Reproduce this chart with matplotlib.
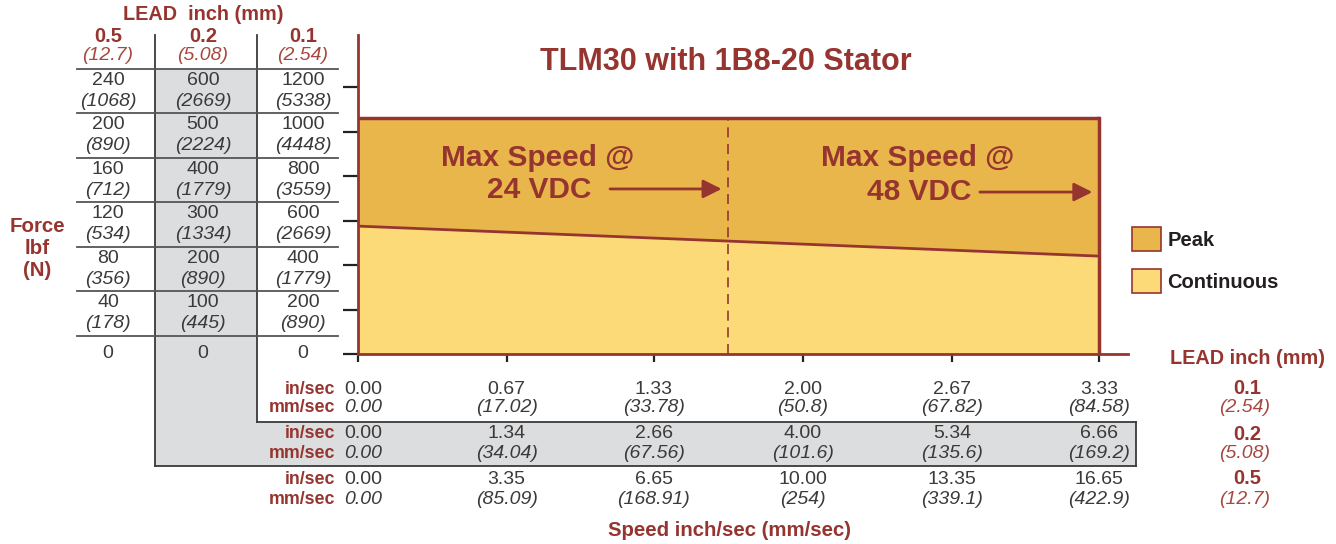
import matplotlib.pyplot as plt
import matplotlib.transforms as mtransforms
from matplotlib.patches import Rectangle, Patch

plt.rcParams['font.family'] = ['Liberation Sans', 'DejaVu Sans']

# ---- data (force in lbf and speed in in/sec for the 0.1 in lead) ----
speed_in = [0.0, 3.33]
peak_force = [1060, 1060]
cont_force = [575, 440]
vmax_24 = 1.665
vmax_48 = 3.33

force_ticks = [1200, 1000, 800, 600, 400, 200]
lead_cols = ['0.5', '0.2', '0.1']
lead_mm = ['(12.7)', '(5.08)', '(2.54)']
lbf_05 = ['240', '200', '160', '120', '80', '40']
n_05 = ['(1068)', '(890)', '(712)', '(534)', '(356)', '(178)']
lbf_02 = ['600', '500', '400', '300', '200', '100']
n_02 = ['(2669)', '(2224)', '(1779)', '(1334)', '(890)', '(445)']
lbf_01 = ['1200', '1000', '800', '600', '400', '200']
n_01 = ['(5338)', '(4448)', '(3559)', '(2669)', '(1779)', '(890)']

speed_01 = ['0.00', '0.67', '1.33', '2.00', '2.67', '3.33']
mm_01 = ['0.00', '(17.02)', '(33.78)', '(50.8)', '(67.82)', '(84.58)']
speed_02 = ['0.00', '1.34', '2.66', '4.00', '5.34', '6.66']
mm_02 = ['0.00', '(34.04)', '(67.56)', '(101.6)', '(135.6)', '(169.2)']
speed_05 = ['0.00', '3.35', '6.65', '10.00', '13.35', '16.65']
mm_05 = ['0.00', '(85.09)', '(168.91)', '(254)', '(339.1)', '(422.9)']
row_leads = ['0.1', '0.2', '0.5']
row_mm = ['(2.54)', '(5.08)', '(12.7)']

RED = '#963530'
RED2 = '#A5483F'
PEAK = '#E8B64A'
CONT = '#FDDA78'
GRAY = '#DCDDDF'
TXT = '#3a3a3a'

W, H = 1336, 544
fig = plt.figure(figsize=(W / 100, H / 100), dpi=100)


def px(l, t, r, b):
    return [l / W, 1 - b / H, (r - l) / W, (b - t) / H]


ax = fig.add_axes(px(357.5, 35, 1128, 354))
ax.set_xlim(0, 3.46)
ax.set_ylim(0, 1434)
ax.patch.set_visible(False)

ov = fig.add_axes([0, 0, 1, 1], zorder=-1)
ov.set_xlim(0, W)
ov.set_ylim(H, 0)
ov.axis('off')

# ---- chart areas ----
ax.fill_between(speed_in, 0, cont_force, color=CONT, lw=0)
ax.fill_between(speed_in, cont_force, peak_force, color=PEAK, lw=0)
ax.plot(speed_in, cont_force, color=RED, lw=2)
ax.plot(speed_in, peak_force, color=RED, lw=2.5, solid_capstyle='butt')
ax.plot([vmax_48, vmax_48], [0, peak_force[-1]], color=RED, lw=2.5)
ax.plot([vmax_24, vmax_24], [0, peak_force[0]], color=RED, lw=1.2, dashes=(6, 4))

for s in ['top', 'right']:
    ax.spines[s].set_visible(False)
for s in ['left', 'bottom']:
    ax.spines[s].set_color(RED)
    ax.spines[s].set_linewidth(2)
    ax.spines[s].set_zorder(5)

ax.set_yticks([0] + force_ticks)
ax.set_xticks([float(v) for v in speed_01])
ax.tick_params(axis='y', length=11, width=1.6, color='#222222', labelleft=False)
ax.tick_params(axis='x', length=6, width=1.6, color='#222222', labelbottom=False)

bold = dict(fontweight='bold', color=RED)
ax.text(0.807, 881, 'Max Speed @', ha='center', va='center', fontsize=21.5, **bold)
ax.text(0.817, 737, '24 VDC', ha='center', va='center', fontsize=21.5, **bold)
ax.text(2.517, 881, 'Max Speed @', ha='center', va='center', fontsize=21.5, **bold)
ax.text(2.524, 728, '48 VDC', ha='center', va='center', fontsize=21.5, **bold)
arrow = dict(arrowstyle='-|>', color=RED, lw=2, mutation_scale=28, shrinkA=0, shrinkB=0)
ax.annotate('', xy=(vmax_24 - 0.03, 742), xytext=(1.134, 742), arrowprops=arrow)
ax.annotate('', xy=(vmax_48 - 0.03, 728), xytext=(2.795, 728), arrowprops=arrow)

ov.text(726, 62, 'TLM30 with 1B8-20 Stator', ha='center', va='center', fontsize=22, **bold)

# ---- legend ----
handles = [Patch(facecolor=PEAK, edgecolor=RED, lw=1.2, label='Peak'),
           Patch(facecolor=CONT, edgecolor=RED, lw=1.2, label='Continuous')]
leg = fig.legend(handles=handles, loc='upper left', bbox_to_anchor=(1132 / W, 1 - 227 / H),
                 frameon=False, borderpad=0, borderaxespad=0, handlelength=1.45,
                 handleheight=1.45, handletextpad=0.3, labelspacing=0.9,
                 prop=dict(weight='bold', size=14.5))
for t in leg.get_texts():
    t.set_color('#231F20')

# ---- left force table ----
ov.add_patch(Rectangle((155, 69), 102, 397, color=GRAY, lw=0))
ov.add_patch(Rectangle((155, 422), 981, 44, color=GRAY, lw=0))
line = dict(color='#3a3a3a', lw=1.3)
ov.plot([155, 155], [35, 466], **line)
ov.plot([257, 257], [35, 422], **line)
ov.plot([257, 1136], [422, 422], **line)
ov.plot([1136, 1136], [422, 466], **line)
ov.plot([155, 1136], [466, 466], **line)

ty = mtransforms.blended_transform_factory(ov.transData, ax.transData)
up = mtransforms.offset_copy(ty, fig=fig, y=7, units='dots')
down = mtransforms.offset_copy(ty, fig=fig, y=-14, units='dots')
rule = mtransforms.offset_copy(ty, fig=fig, y=-26, units='dots')
rule_top = mtransforms.offset_copy(ty, fig=fig, y=18, units='dots')

ov.plot([77, 338], [force_ticks[0]] * 2, color='#555555', lw=1.3, transform=rule_top)
for v in force_ticks:
    ov.plot([77, 338], [v, v], color='#555555', lw=1.3, transform=rule)

col_x = [108, 203, 303]
for cx, lbf, n in zip(col_x, [lbf_05, lbf_02, lbf_01], [n_05, n_02, n_01]):
    for v, a, b in zip(force_ticks, lbf, n):
        ov.text(cx, v, a, ha='center', va='center', fontsize=14, color=TXT, transform=up)
        ov.text(cx, v, b, ha='center', va='center', fontsize=14, color=TXT,
                style='italic', transform=down)
    ov.text(cx, 0, '0', ha='center', va='center', fontsize=14, color=TXT, transform=ty)

ov.text(203, 15, 'LEAD  inch (mm)', ha='center', va='center', fontsize=14.3, **bold)
for cx, a, b in zip(col_x, lead_cols, lead_mm):
    ov.text(cx, 37, a, ha='center', va='center', fontsize=14.5, **bold)
    ov.text(cx, 56, b, ha='center', va='center', fontsize=14, style='italic', color=RED2)

for yy, s in zip([226, 248, 270], ['Force', 'lbf', '(N)']):
    ov.text(37, yy, s, ha='center', va='center', fontsize=14.8, **bold)

# ---- bottom speed table ----
tx = mtransforms.blended_transform_factory(ax.transData, ov.transData)
tx0 = mtransforms.offset_copy(tx, fig=fig, x=6, units='dots')
xpos = [float(v) for v in speed_01]
rows_y = [(389, 408), (434, 454), (479, 499)]
for (y1, y2), sp, mm in zip(rows_y, [speed_01, speed_02, speed_05], [mm_01, mm_02, mm_05]):
    ov.text(335, y1, 'in/sec', ha='right', va='center', fontsize=12.8, **bold)
    ov.text(335, y2, 'mm/sec', ha='right', va='center', fontsize=12.8, **bold)
    for i, (x, a, b) in enumerate(zip(xpos, sp, mm)):
        tr = tx0 if i == 0 else tx
        ov.text(x, y1, a, ha='center', va='center', fontsize=14, color=TXT, transform=tr)
        ov.text(x, y2, b, ha='center', va='center', fontsize=14, color=TXT,
                style='italic', transform=tr)

ov.text(1247, 358, 'LEAD inch (mm)', ha='center', va='center', fontsize=14.3, **bold)
for (y1, y2), a, b in zip(rows_y, row_leads, row_mm):
    ov.text(1247, y1, a, ha='center', va='center', fontsize=14.5, **bold)
    ov.text(1245, y2, b, ha='center', va='center', fontsize=14, style='italic', color=RED2)

ov.text(730, 530, 'Speed inch/sec (mm/sec)', ha='center', va='center', fontsize=14.7, **bold)

fig.savefig('out.png', dpi=100)
